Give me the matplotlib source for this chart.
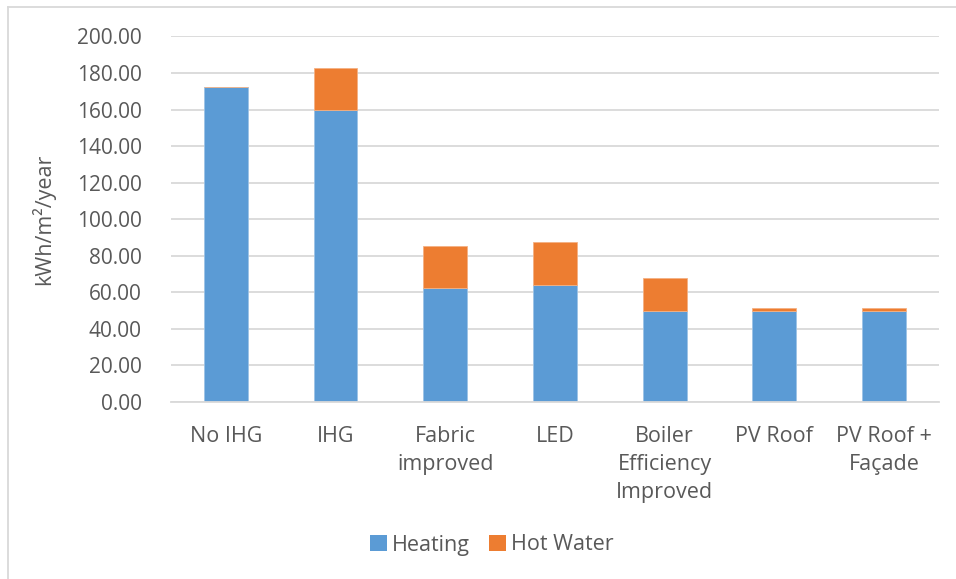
import matplotlib.pyplot as plt
from matplotlib.lines import Line2D
from matplotlib.patches import Patch

categories = ['No IHG', 'IHG', 'Fabric\nimproved', 'LED', 'Boiler\nEfficiency\nImproved', 'PV Roof', 'PV Roof +\nFaçade']
heating = [172.5, 160.0, 62.5, 64.0, 50.0, 50.0, 50.0]
hot_water = [0.0, 23.0, 23.0, 23.5, 18.0, 1.2, 1.2]
y_ticks = [0, 20, 40, 60, 80, 100, 120, 140, 160, 180, 200]

blue = '#5B9BD5'
orange = '#ED7D31'
text_col = '#595959'
grid_col = '#D9D9D9'

plt.rcParams['font.family'] = ['Open Sans', 'DejaVu Sans']

fig = plt.figure(figsize=(9.56, 5.79), dpi=100)
ax = fig.add_axes([0.1789, 0.3057, 0.982 - 0.1789, 0.937 - 0.3057])

x = list(range(len(categories)))
ax.bar(x, heating, width=0.4, color=blue, edgecolor='#9DC3E6', linewidth=0.6, zorder=3)
ax.bar(x, hot_water, width=0.4, bottom=heating, color=orange, edgecolor='#F4B183', linewidth=0.6, zorder=3)

ax.set_xlim(-0.5, len(categories) - 0.5)
ax.set_ylim(0, 200)
ax.set_yticks(y_ticks)
ax.set_yticklabels(['%.2f' % v for v in y_ticks])
ax.yaxis.grid(True, color=grid_col, linewidth=1.3, zorder=0)
ax.set_axisbelow(True)
for s in ['top', 'right', 'left']:
    ax.spines[s].set_visible(False)
ax.spines['bottom'].set_color(grid_col)
ax.spines['bottom'].set_linewidth(1.3)
ax.spines['bottom'].set_zorder(4)

ax.set_xticks(x)
ax.set_xticklabels(categories, linespacing=1.45, va='top')
ax.tick_params(axis='both', length=0, labelsize=15, colors=text_col)
ax.tick_params(axis='x', labelsize=15.5, pad=17)
ax.tick_params(axis='y', pad=21)

ax.set_ylabel('kWh/m²/year', fontsize=15.5, color=text_col, labelpad=16)

handles = [Patch(facecolor=blue), Patch(facecolor=orange)]
fig.legend(handles, ['Heating', 'Hot Water'], loc='center', bbox_to_anchor=(492 / 956, 1 - 545 / 579),
           ncol=2, frameon=False, fontsize=15.5, labelcolor=text_col,
           handlelength=0.75, handleheight=0.75, handletextpad=0.25, columnspacing=0.9)

# chart area border (left and top visible)
fig.add_artist(Line2D([8 / 956, 8 / 956], [0, 1 - 7 / 579], color=grid_col, linewidth=1.3))
fig.add_artist(Line2D([8 / 956, 1], [1 - 7 / 579, 1 - 7 / 579], color=grid_col, linewidth=1.3))

fig.savefig('out.png', dpi=100, facecolor='white')
